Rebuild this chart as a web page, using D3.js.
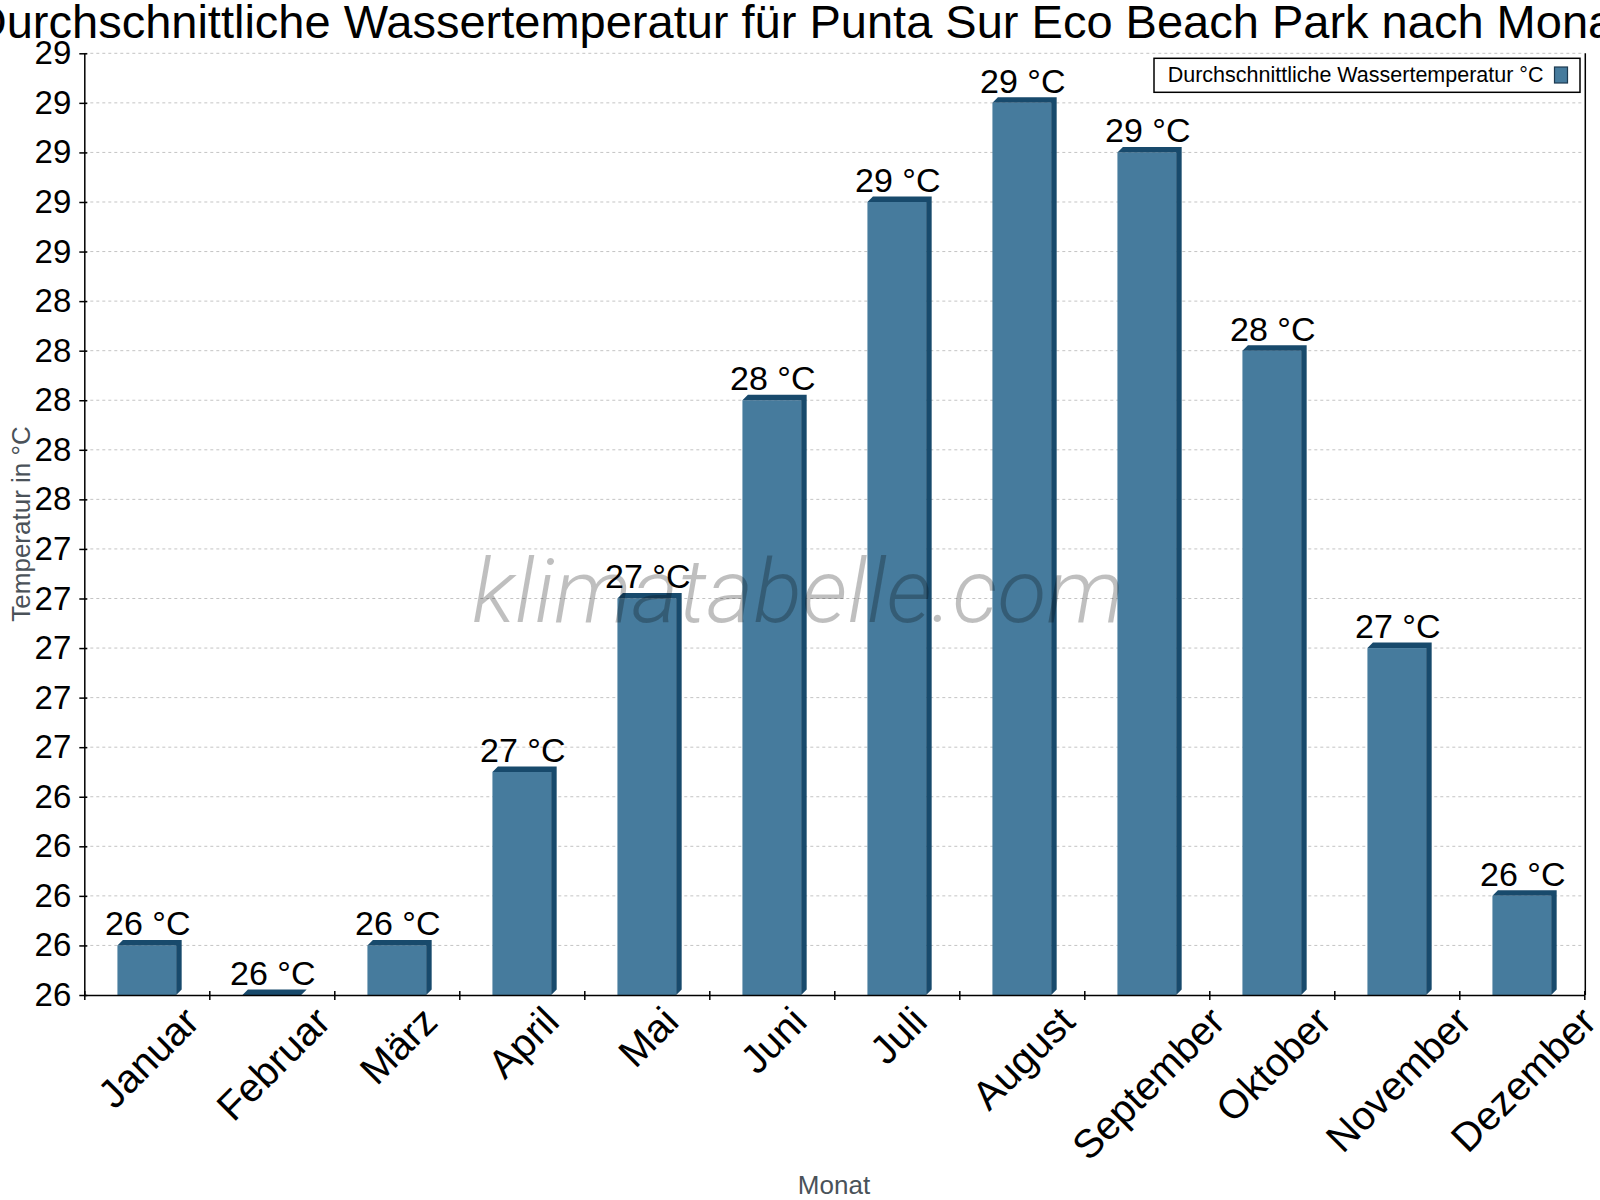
<!DOCTYPE html>
<html>
<head>
<meta charset="utf-8">
<script src="https://cdn.jsdelivr.net/npm/d3@7"></script>
<style>
  html, body { margin: 0; padding: 0; background: #fff; }
  svg { display: block; font-family: "Liberation Sans", Arial, sans-serif; }
</style>
</head>
<body>
<svg id="chart" width="1600" height="1200"></svg>
<script>
const titleText = "Durchschnittliche Wassertemperatur für Punta Sur Eco Beach Park nach Monat";
const seriesName = "Durchschnittliche Wassertemperatur °C";
const yAxisTitle = "Temperatur in °C";
const xAxisTitle = "Monat";
const months = ["Januar","Februar","März","April","Mai","Juni","Juli","August","September","Oktober","November","Dezember"];
const temps = [25.8, 25.6, 25.8, 26.5, 27.2, 28.0, 28.8, 29.2, 29.0, 28.2, 27.0, 26.0];
const yTickValues = [25.6, 25.8, 26.0, 26.2, 26.4, 26.6, 26.8, 27.0, 27.2, 27.4, 27.6, 27.8, 28.0, 28.2, 28.4, 28.6, 28.8, 29.0, 29.2, 29.4];
const yTickLabels = ["26","26","26","26","26","27","27","27","27","27","28","28","28","28","28","29","29","29","29","29"];
const yDomain = [25.6, 29.4];

const frontColor = "#467b9d";
const darkColor = "#184a6c";

const svg = d3.select("#chart");
const plotLeft = 84.3, plotRight = 1584.3, plotTop = 53.3, plotBottom = 995;

const x = d3.scaleBand().domain(months).range([plotLeft, plotRight]).paddingInner(0).paddingOuter(0);
const xEdge = d3.scaleLinear().domain([0, months.length]).range([plotLeft, plotRight]);
const y = d3.scaleLinear().domain(yDomain).range([plotBottom, plotTop]);

// Title
svg.append("text").attr("x", 800).attr("y", 37.5).attr("text-anchor", "middle")
  .attr("font-size", 47).attr("fill", "#000").text(titleText);

// Gridlines
svg.append("g").selectAll("line").data(yTickValues.slice(1)).join("line")
  .attr("x1", plotLeft).attr("x2", plotRight)
  .attr("y1", d => y(d)).attr("y2", d => y(d))
  .attr("stroke", "#c4c4c4").attr("stroke-width", 1).attr("stroke-dasharray", "3,3");

// Bars (3D)
const bw = x.bandwidth() * 0.47;
const depth = 5.5;
const barData = months.map((m, i) => ({m, v: temps[i]}));
const bars = svg.append("g").selectAll("g").data(barData).join("g");
bars.append("rect")
  .attr("x", d => x(d.m) + (x.bandwidth() - bw) / 2)
  .attr("y", d => y(d.v)).attr("width", bw).attr("height", d => y(yDomain[0]) - y(d.v))
  .attr("fill", frontColor);
bars.append("path").attr("fill", darkColor).attr("d", d => {
  const x0 = x(d.m) + (x.bandwidth() - bw) / 2, yt = y(d.v), yb = y(yDomain[0]);
  return `M${x0},${yt}L${x0 + depth},${yt - depth}L${x0 + bw + depth},${yt - depth}L${x0 + bw + depth},${yb - depth}L${x0 + bw},${yb}L${x0 + bw},${yt}Z`;
});

// Value labels
svg.append("g").selectAll("text").data(barData).join("text")
  .attr("x", d => x(d.m) + x.bandwidth() / 2 + 1)
  .attr("y", d => y(d.v) - 10)
  .attr("text-anchor", "middle").attr("font-size", 34).attr("fill", "#000")
  .text(d => Math.round(d.v) + " °C");

// Watermark (on top of bars)
svg.append("text").attr("x", 472).attr("y", 622)
  .attr("font-family", "Roboto, 'Open Sans', sans-serif").attr("font-weight", 300).attr("font-style", "italic")
  .attr("font-size", 88).attr("textLength", 652).attr("lengthAdjust", "spacingAndGlyphs")
  .attr("fill", "#000").attr("fill-opacity", 0.25).text("klimatabelle.com");

// Y axis
const yAxis = svg.append("g").attr("transform", `translate(${plotLeft},0)`)
  .call(d3.axisLeft(y).tickValues(yTickValues).tickFormat((d, i) => yTickLabels[i]).tickSizeInner(5).tickSizeOuter(0).tickPadding(8));
yAxis.select(".domain").attr("stroke", "#000").attr("stroke-width", 1.5);
yAxis.selectAll(".tick line").attr("x1", 3).attr("stroke", "#000").attr("stroke-width", 1.5);
yAxis.selectAll(".tick text").attr("font-size", 33).attr("font-family", "Liberation Sans, Arial, sans-serif").attr("fill", "#000");

// X axis
const xAxis = svg.append("g").attr("transform", `translate(0,${plotBottom})`)
  .call(d3.axisBottom(xEdge).tickValues(d3.range(0, months.length + 1)).tickFormat("").tickSizeInner(5).tickSizeOuter(0));
xAxis.select(".domain").attr("stroke", "#000").attr("stroke-width", 1.5);
xAxis.selectAll(".tick line").attr("y1", -4).attr("stroke", "#000").attr("stroke-width", 1.5);

// X labels rotated -45°, rotated text box centred on the band
const xFont = 40;
const xl = svg.append("g");
months.forEach(m => {
  const t = xl.append("text").attr("font-size", xFont).attr("text-anchor", "end").attr("fill", "#000").text(m);
  const L = t.node().getComputedTextLength();
  const ax = x(m) + x.bandwidth() / 2 + 1.5 + 0.3535 * L + 0.245 * xFont;
  const ay = 1024;
  t.attr("transform", `translate(${ax},${ay}) rotate(-45)`);
});

// Right border
svg.append("line").attr("x1", plotRight + 1).attr("x2", plotRight + 1).attr("y1", plotTop).attr("y2", plotBottom)
  .attr("stroke", "#000").attr("stroke-width", 1.5);

// Legend
svg.append("rect").attr("x", 1154).attr("y", 58.3).attr("width", 426).attr("height", 34)
  .attr("fill", "#fff").attr("stroke", "#000").attr("stroke-width", 1.5);
svg.append("text").attr("x", 1167.7).attr("y", 81.7).attr("font-size", 21.5).attr("fill", "#000").text(seriesName);
svg.append("rect").attr("x", 1554.5).attr("y", 67).attr("width", 13).attr("height", 16)
  .attr("fill", frontColor).attr("stroke", "#1d3a50").attr("stroke-width", 1.2);

// Axis titles
svg.append("text").attr("transform", "translate(30,524) rotate(-90)").attr("text-anchor", "middle")
  .attr("font-size", 26).attr("fill", "#4a5259").text(yAxisTitle);
svg.append("text").attr("x", 834).attr("y", 1194).attr("text-anchor", "middle")
  .attr("font-size", 26).attr("fill", "#4a5259").text(xAxisTitle);
</script>
</body>
</html>
